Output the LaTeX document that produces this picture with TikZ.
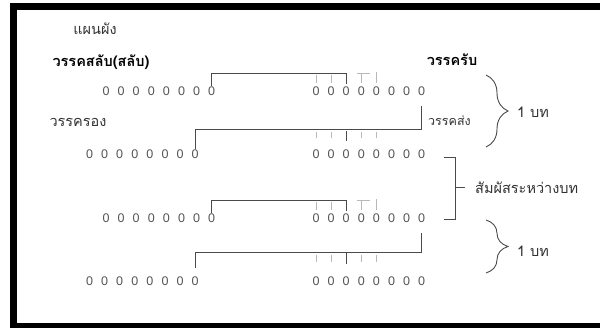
\documentclass[tikz,border=0pt]{standalone}
\usepackage{fontspec}
\setmainfont{Liberation Sans}
\newfontfamily\thai[Script=Thai]{Loma}
\usetikzlibrary{decorations.pathreplacing,calc}
\definecolor{lnc}{HTML}{4A4A4A}
\definecolor{ltc}{HTML}{B8B8B8}
\definecolor{txc}{HTML}{333333}
\definecolor{zc}{HTML}{555555}
\begin{document}
\begin{tikzpicture}[x=1pt,y=-1pt,
  zero/.style={inner sep=0pt, font=\fontsize{12.5}{12.5}\selectfont, text=zc},
  th/.style={inner sep=0pt, font=\thai\fontsize{14.5}{15}\selectfont, text=txc},
  ths/.style={inner sep=0pt, font=\thai\fontsize{12.5}{13}\selectfont, text=txc},
  thb/.style={inner sep=0pt, font=\thai\bfseries\fontsize{14.5}{15}\selectfont, text=black},
  ln/.style={draw=lnc, line width=1pt},
  tk/.style={draw=lnc, line width=1.4pt},
  lt/.style={draw=ltc, line width=1pt},
  br/.style={draw=lnc, line width=0.9pt, decorate, decoration={brace, amplitude=22pt}}]
\useasboundingbox (0,0) rectangle (600,328);
\fill[white] (0,0) rectangle (600,328);
% frame
\fill[black] (10,3) rectangle (600,10);
\fill[black] (10,3) rectangle (17,328);
\fill[black] (10,323) rectangle (600,328);
% labels
\node[th] (plan) at (95,29) {แผนผัง};
\node[thb] (salap) at (101,62) {วรรคสลับ(สลับ)};
\node[thb] (rap) at (452,60) {วรรครับ};
\node[th] (rong) at (78,122) {วรรครอง};
\node[ths, anchor=west] (song) at (428,121) {วรรคส่ง};
\node[th, anchor=west] (bot1) at (517,112) {1 บท};
\node[th, anchor=west] (link) at (475,188) {สัมผัสระหว่างบท};
\node[th, anchor=west] (bot2) at (517,251) {1 บท};
% zeros
\foreach \k in {1,...,8} {
  \node[zero] (aL\k) at ({106+15.1*(\k-1)},91) {0};
  \node[zero] (aR\k) at ({316+15.1*(\k-1)},91) {0};
  \node[zero] (bL\k) at ({89.5+15.1*(\k-1)},154) {0};
  \node[zero] (bR\k) at ({316+15.1*(\k-1)},154) {0};
  \node[zero] (cL\k) at ({106+15.1*(\k-1)},218) {0};
  \node[zero] (cR\k) at ({316+15.1*(\k-1)},218) {0};
  \node[zero] (dL\k) at ({89.5+15.1*(\k-1)},281) {0};
  \node[zero] (dR\k) at ({316+15.1*(\k-1)},281) {0};
}
% row 1
\draw[ln, shorten >=2pt] (aL8.north) -- (aL8.north |- 0,73.5) -| (aR3.north);
\draw[tk] (aR3.north |- 0,73.5) -- (aR3.north |- 0,84);
\draw[lt] (aR1.north |- 0,75) -- (aR1.north |- 0,83);
\draw[lt] (aR2.north |- 0,75) -- (aR2.north |- 0,83);
\draw[lt] (357,73.5) -- (370,73.5);
\draw[lt] (aR4.north |- 0,73.5) -- (aR4.north |- 0,83);
\draw[lt] (aR5.north |- 0,72) -- (aR5.north |- 0,83);
% row 2
\draw[ln, shorten >=10pt] (bL8.north) -- (bL8.north |- 0,130) -| (aR8.south);
\draw[tk] (bR3.north |- 0,131) -- (bR3.north |- 0,141);
\foreach \k in {1,2,4,5} \draw[lt] (bR\k.north |- 0,132) -- (bR\k.north |- 0,138);
% row 3
\draw[ln, shorten >=2pt] (cL8.north) -- (cL8.north |- 0,200.5) -| (cR3.north);
\draw[tk] (cR3.north |- 0,200.5) -- (cR3.north |- 0,211);
\draw[lt] (cR1.north |- 0,202) -- (cR1.north |- 0,210);
\draw[lt] (cR2.north |- 0,202) -- (cR2.north |- 0,210);
\draw[lt] (357,200.5) -- (370,200.5);
\draw[lt] (cR4.north |- 0,200.5) -- (cR4.north |- 0,210);
\draw[lt] (cR5.north |- 0,199) -- (cR5.north |- 0,210);
% row 4
\draw[ln, shorten <=8pt, shorten >=10pt] (dL8.north) -- (dL8.north |- 0,253) -| (cR8.south);
\draw[tk] (dR3.north |- 0,253) -- (dR3.north |- 0,264);
\foreach \k in {1,2,4,5} \draw[lt] (dR\k.north |- 0,255) -- (dR\k.north |- 0,262);
% braces
\coordinate (b1t) at (486,75);
\coordinate (b1b) at (486,147);
\coordinate (b2t) at (486,220);
\coordinate (b2b) at (486,273);
\draw[br] (b1t) -- (b1b);
\draw[br] (b2t) -- (b2b);
% bracket
\coordinate (k1) at (444,158);
\coordinate (k2) at (444,220);
\draw[ln] (k1) -- (455,158) -- (455,220) -- (k2);
\draw[ln] (455,188) -- ([xshift=-10pt]link.west);
\end{tikzpicture}
\end{document}
